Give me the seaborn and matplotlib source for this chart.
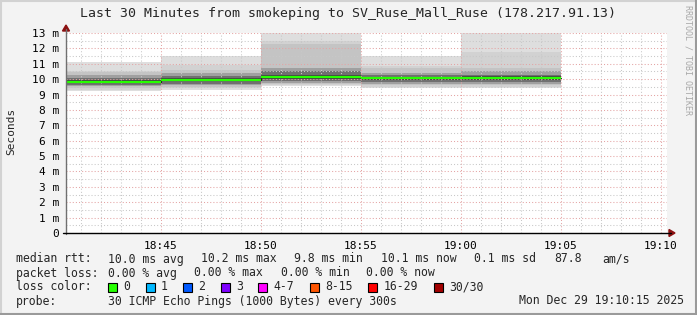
import numpy as np
import pandas as pd
import matplotlib
matplotlib.use("Agg")
import matplotlib.pyplot as plt
from matplotlib.lines import Line2D
from matplotlib.patches import Polygon, Rectangle
from matplotlib.ticker import MultipleLocator, FixedLocator, FixedFormatter
import seaborn as sns

# ---------------- data ----------------
# block start times (minutes after 18:40), 5-minute steps
block_start = [0, 5, 10, 15, 20]
block_end = 25
median_ms = [9.84, 9.97, 10.16, 10.06, 10.10]
# smoke bands (outer -> inner), upper and lower ping values in ms
smoke_hi = [
    [11.10, 11.50, 13.50, 11.50, 13.50],
    [10.55, 10.90, 12.50, 10.88, 11.77],
    [10.45, 10.58, 12.30, 10.70, 10.73],
    [10.30, 10.40, 10.73, 10.40, 10.50],
    [10.10, 10.20, 10.50, 10.25, 10.30],
    [9.95, 10.05, 10.30, 10.15, 10.20],
]
smoke_lo = [
    [9.20, 9.28, 9.54, 9.43, 9.43],
    [9.30, 9.40, 9.60, 9.50, 9.50],
    [9.45, 9.50, 9.70, 9.60, 9.60],
    [9.55, 9.60, 9.78, 9.70, 9.70],
    [9.65, 9.70, 9.86, 9.80, 9.82],
    [9.75, 9.85, 10.00, 9.92, 9.95],
]
smoke_colors = ['#dedede', '#d2d2d2', '#c4c4c4', '#a0a0a0', '#707070', '#454545']

x_tick_pos = [5, 10, 15, 20, 25, 30]
x_tick_labels = ['18:45', '18:50', '18:55', '19:00', '19:05', '19:10']
y_tick_pos = list(range(0, 14))
y_tick_labels = ['0'] + [f'{v} m' for v in range(1, 14)]

title = 'Last 30 Minutes from smokeping to SV_Ruse_Mall_Ruse (178.217.91.13)'
rtt_stats = ['10.0 ms avg', '10.2 ms max', '9.8 ms min', '10.1 ms now', '0.1 ms sd', '87.8', 'am/s']
loss_stats = ['0.00 % avg', '0.00 % max', '0.00 % min', '0.00 % now']
loss_labels = ['0', '1', '2', '3', '4-7', '8-15', '16-29', '30/30']
loss_colors = ['#26ff00', '#00b8ff', '#0059ff', '#7e00ff', '#ff00ff', '#ff5500', '#ff0000', '#a10000']
probe_text = '30 ICMP Echo Pings (1000 Bytes) every 300s'
date_text = 'Mon Dec 29 19:10:15 2025'

# ---------------- style ----------------
sns.set_style("white")
plt.rcParams['font.family'] = ['DejaVu Sans Mono', 'DejaVu Sans']

W, H = 697, 315
fig = plt.figure(figsize=(W / 100, H / 100), dpi=100, facecolor='#f3f3f3')


def fx(x):
    return x / W


def fy(y):
    return 1 - y / H


L, R, T, B = 66, 667, 33, 233
ax = fig.add_axes([fx(L), fy(B), (R - L) / W, (B - T) / H])
ax.set_facecolor('white')
ax.set_xlim(0.25, 30.3)
ax.set_ylim(0, 13)

xs = block_start + [block_end]
for hi, lo, c in zip(smoke_hi, smoke_lo, smoke_colors):
    ax.fill_between(xs, lo + [lo[-1]], hi + [hi[-1]], step='post', color=c, lw=0, zorder=1)

df = pd.DataFrame({'t': xs, 'rtt': median_ms + [median_ms[-1]]})
sns.lineplot(data=df, x='t', y='rtt', drawstyle='steps-post', color='#202020', lw=0.8,
             ax=ax, zorder=6)
ax.hlines(median_ms, block_start, xs[1:], color='#26ff00', lw=1.6, zorder=7)

# grid
ax.xaxis.set_major_locator(FixedLocator(x_tick_pos))
ax.xaxis.set_major_formatter(FixedFormatter(x_tick_labels))
ax.xaxis.set_minor_locator(MultipleLocator(1))
ax.yaxis.set_major_locator(FixedLocator(y_tick_pos))
ax.yaxis.set_major_formatter(FixedFormatter(y_tick_labels))
ax.yaxis.set_minor_locator(MultipleLocator(0.5))
ax.grid(which='minor', color='#c8c8c8', lw=0.75, ls=(0, (1, 2)))
ax.grid(which='major', color='#e4a4a4', lw=0.75, ls=(0, (1, 2)))
ax.set_axisbelow(False)

ax.tick_params(axis='both', which='major', labelsize=8, colors='#000000', length=3,
               width=0.8, direction='out', pad=2)
ax.tick_params(axis='both', which='minor', length=1.5, width=0.6, direction='out')
ax.tick_params(axis='y', which='minor', length=0)
ax.tick_params(axis='x', which='major', pad=3)
for t in ax.get_xticklines() + ax.get_yticklines():
    t.set_color('#606060')
for t in ax.xaxis.get_minorticklines():
    t.set_color('#909090')
for s in ax.spines.values():
    s.set_visible(False)
ax.set_xlabel('')
ax.set_ylabel('')

# axis lines with arrows
fig.add_artist(Line2D([fx(L), fx(L)], [fy(B + 1), fy(29)], color='#707070', lw=1.0))
fig.add_artist(Line2D([fx(L - 3), fx(671)], [fy(B), fy(B)], color='#000000', lw=1.0))
fig.add_artist(Polygon([(fx(62.5), fy(31)), (fx(69.5), fy(31)), (fx(L), fy(25))],
                       closed=True, color='#8b1010', transform=fig.transFigure))
fig.add_artist(Polygon([(fx(669), fy(229.5)), (fx(669), fy(236.5)), (fx(675), fy(B))],
                       closed=True, color='#8b1010', transform=fig.transFigure))

# title and labels
fig.text(fx(348.5), fy(13), title, ha='center', va='center', fontsize=9.5)
fig.text(fx(11), fy(131), 'Seconds', rotation=90, ha='center', va='center', fontsize=8)
fig.text(fx(688), fy(5), 'RRDTOOL / TOBI OETIKER', rotation=270, ha='center', va='top',
         fontsize=6, color='#a8a8a8')

# legend area
fs = 8.3
rows_y = [259, 273, 287, 301]
fig.text(fx(16), fy(rows_y[0]), 'median rtt:', ha='left', va='center', fontsize=fs)
for xp, s in zip([108, 201, 294, 381, 474.5, 554, 602], rtt_stats):
    fig.text(fx(xp), fy(rows_y[0]), s, ha='left', va='center', fontsize=fs)
fig.text(fx(16), fy(rows_y[1]), 'packet loss:', ha='left', va='center', fontsize=fs)
for xp, s in zip([108, 194.4, 280.6, 366.4], loss_stats):
    fig.text(fx(xp), fy(rows_y[1]), s, ha='left', va='center', fontsize=fs)
fig.text(fx(16), fy(rows_y[2]), 'loss color:', ha='left', va='center', fontsize=fs)
xb = 108.3
for lab, col in zip(loss_labels, loss_colors):
    fig.add_artist(Rectangle((fx(xb), fy(rows_y[2] + 4.5)), 9 / W, 9 / H, facecolor=col,
                             edgecolor='black', lw=0.8, transform=fig.transFigure))
    fig.text(fx(xb + 15), fy(rows_y[2]), lab, ha='left', va='center', fontsize=fs)
    xb = xb + 15 + len(lab) * 7 + 15.5
fig.text(fx(16), fy(rows_y[3]), 'probe:', ha='left', va='center', fontsize=fs)
fig.text(fx(108), fy(rows_y[3]), probe_text, ha='left', va='center', fontsize=fs)
fig.text(fx(684), fy(rows_y[3]), date_text, ha='right', va='center', fontsize=fs)

# image frame
fig.add_artist(Line2D([0, 1], [fy(0.5), fy(0.5)], color='#d2d2d2', lw=1.5))
fig.add_artist(Line2D([fx(0.5), fx(0.5)], [0, 1], color='#d2d2d2', lw=1.5))
fig.add_artist(Line2D([0, 1], [fy(314), fy(314)], color='#9a9a9a', lw=1.5))
fig.add_artist(Line2D([fx(696), fx(696)], [0, 1], color='#9a9a9a', lw=1.5))

fig.savefig('out.png', dpi=100, facecolor=fig.get_facecolor())
